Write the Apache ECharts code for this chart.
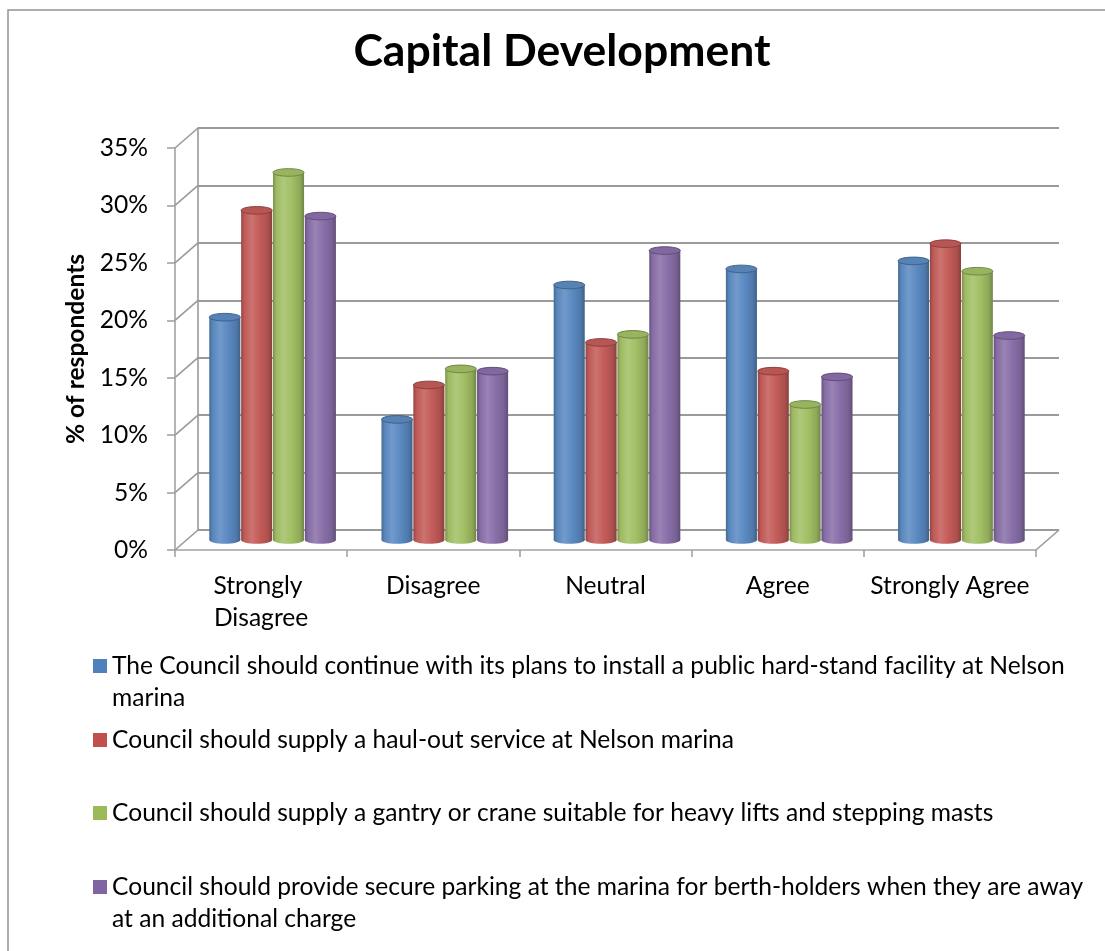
<!DOCTYPE html>
<html>
<head>
<meta charset="utf-8">
<title>Capital Development</title>
<script src="https://cdn.jsdelivr.net/npm/echarts@6/dist/echarts.min.js"></script>
<style>
  html, body { margin: 0; padding: 0; background: #ffffff; }
  #chart { width: 1105px; height: 951px; }
</style>
</head>
<body>
<div id="chart"></div>
<script>
// ---- data ---------------------------------------------------------------
const categories = ['Strongly Disagree', 'Disagree', 'Neutral', 'Agree', 'Strongly Agree'];

const seriesNames = [
  'The Council should continue with its plans to install a public hard-stand facility at Nelson marina',
  'Council should supply a haul-out service at Nelson marina',
  'Council should supply a gantry or crane suitable for heavy lifts and stepping masts',
  'Council should provide secure parking at the marina for berth-holders when they are away at an additional charge'
];

// % of respondents per answer
const hardStand = [19.4, 10.5, 22.2, 23.6, 24.3];
const haulOut   = [28.7, 13.5, 17.2, 14.7, 25.8];
const gantry    = [32.0, 14.9, 17.9, 11.8, 23.4];
const parking   = [28.2, 14.7, 25.2, 14.2, 17.8];

const yTicks = [0, 5, 10, 15, 20, 25, 30, 35];

// ---- look & layout -------------------------------------------------------
const FONT = 'Lato, Carlito, Calibri, "Open Sans", sans-serif';
const FONT_SIZE = 24.6;
const LINE_H = 32;
const palette = ['#4F81BD', '#C0504D', '#9BBB59', '#8064A2'];
const GRID_COLOR = '#9a9a9a';
const AXIS_COLOR = '#a3a3a3';

// front face of the plot box; the back wall is pushed up and to the right
const FRONT = { left: 175, top: 148, width: 861, height: 402 };
const DEPTH = { dx: 23, dy: 20 };
const GROUP_RATIO = 0.74;   // share of a category band used by the cylinder cluster

function mix(hex, target, t) {
  const n = parseInt(hex.slice(1), 16);
  const r = (n >> 16) & 255, g = (n >> 8) & 255, b = n & 255;
  const f = c => Math.round(c + (target - c) * t);
  return 'rgb(' + f(r) + ',' + f(g) + ',' + f(b) + ')';
}
const toHex = rgb => '#' + rgb.match(/\d+/g).map(c => (+c).toString(16).padStart(2, '0')).join('');
const darker = (hex, t) => mix(hex, 0, t);
const lighter = (hex, t) => mix(hex, 255, t);

function cylinderRenderer(seriesIdx) {
  const base = toHex(lighter(palette[seriesIdx], 0.07));
  return function (params, api) {
    const cat = api.value(0);
    const val = api.value(1);
    const band = api.size([1, 0])[0];
    const w = band * GROUP_RATIO / 4;
    const foot = api.coord([cat, 0]);
    const head = api.coord([cat, val]);
    const cx = foot[0] + (seriesIdx - 1.5) * w;
    const rx = w / 2 - 0.4;
    const ry = 3.8;
    const side = new echarts.graphic.LinearGradient(0, 0, 1, 0, [
      { offset: 0, color: darker(base, 0.25) },
      { offset: 0.1, color: darker(base, 0.03) },
      { offset: 0.34, color: lighter(base, 0.14) },
      { offset: 0.6, color: base },
      { offset: 0.86, color: darker(base, 0.12) },
      { offset: 1, color: darker(base, 0.3) }
    ]);
    return {
      type: 'group',
      children: [
        { type: 'ellipse', shape: { cx: cx, cy: foot[1], rx: rx, ry: ry }, style: { fill: side } },
        { type: 'rect', shape: { x: cx - rx, y: head[1], width: rx * 2, height: foot[1] - head[1] }, style: { fill: side } },
        { type: 'ellipse', shape: { cx: cx, cy: head[1], rx: rx, ry: ry },
          style: { fill: darker(base, 0.06), stroke: darker(base, 0.3), lineWidth: 1 } }
      ]
    };
  };
}

// edges linking the front axes to the back wall
function depthEdgeRenderer(params, api) {
  const cs = params.coordSys;
  const v = api.value(1);
  const y = api.coord([0, v])[1];
  const style = { stroke: GRID_COLOR, lineWidth: 1.6 };
  const children = [
    { type: 'line', shape: { x1: cs.x, y1: y, x2: cs.x + DEPTH.dx, y2: y - DEPTH.dy }, style: style }
  ];
  if (v === 0) {
    children.push({ type: 'line',
      shape: { x1: cs.x + cs.width, y1: y, x2: cs.x + cs.width + DEPTH.dx, y2: y - DEPTH.dy },
      style: style });
  }
  return { type: 'group', children: children };
}

const gridAt = k => ({
  left: FRONT.left + DEPTH.dx * k,
  top: FRONT.top - DEPTH.dy * k,
  width: FRONT.width,
  height: FRONT.height,
  containLabel: false
});

const valueAxisBase = { type: 'value', min: 0, max: 35, interval: 5 };
const seriesData = [hardStand, haulOut, gantry, parking];

// legend entries: number of text lines and vertical placement
const legendLines = [2, 1, 1, 2];
const legendTops = [650, 724, 797, 871];
const SWATCH = 14;

// a square swatch sitting level with the first text line; the zero-length
// tail stretches the icon box so that it spans the whole wrapped label
function swatchIcon(lines) {
  if (lines === 1) return 'rect';
  const h = SWATCH + (lines - 1) * LINE_H;
  return 'path://M0,0H' + SWATCH + 'V' + SWATCH + 'H0Z M0,' + h + 'L0.01,' + h;
}

const option = {
  animation: false,
  backgroundColor: '#ffffff',
  color: palette,
  textStyle: { fontFamily: FONT },
  title: {
    text: 'Capital Development',
    left: 562,
    top: 29,
    padding: 0,
    textAlign: 'center',
    textStyle: { fontFamily: FONT, fontWeight: 'bold', fontSize: 44.5, color: '#000000' }
  },
  graphic: [
    { type: 'rect', silent: true, shape: { x: 8, y: 10, width: 1200, height: 1200 },
      style: { fill: null, stroke: '#939393', lineWidth: 1.5 } }
  ],
  grid: [gridAt(1), gridAt(0.5), gridAt(0)],
  xAxis: [
    { gridIndex: 0, type: 'category', data: categories, show: false },
    { gridIndex: 1, type: 'category', data: categories, show: false },
    {
      gridIndex: 2, type: 'category', data: categories,
      axisLine: { show: true, lineStyle: { color: AXIS_COLOR, width: 1.6 } },
      axisTick: { show: true, interval: 0, length: 7, lineStyle: { color: AXIS_COLOR, width: 1.6 } },
      axisLabel: {
        interval: 0, margin: 20, fontFamily: FONT, fontSize: FONT_SIZE, lineHeight: LINE_H,
        color: '#000000', width: 168, overflow: 'break'
      },
      splitLine: { show: false }
    }
  ],
  yAxis: [
    Object.assign({}, valueAxisBase, {
      gridIndex: 0,
      axisLine: { show: true, lineStyle: { color: GRID_COLOR, width: 1.6 } },
      axisTick: { show: false },
      axisLabel: { show: false },
      splitLine: { show: true, lineStyle: { color: GRID_COLOR, width: 2 } }
    }),
    Object.assign({}, valueAxisBase, { gridIndex: 1, show: false, splitLine: { show: false } }),
    Object.assign({}, valueAxisBase, {
      gridIndex: 2,
      name: '% of respondents',
      nameLocation: 'middle',
      nameRotate: 90,
      nameGap: 82,
      nameTextStyle: { fontFamily: FONT, fontWeight: 'bold', fontSize: FONT_SIZE, color: '#000000' },
      axisLine: { show: true, lineStyle: { color: AXIS_COLOR, width: 1.6 } },
      axisTick: { show: true, length: 8, lineStyle: { color: AXIS_COLOR, width: 1.6 } },
      axisLabel: { formatter: '{value}%', margin: 27, fontFamily: FONT, fontSize: FONT_SIZE, color: '#000000' },
      splitLine: { show: false }
    })
  ],
  legend: seriesNames.map((name, i) => ({
    data: [name],
    left: 93,
    top: legendTops[i],
    orient: 'vertical',
    padding: 0,
    itemGap: 0,
    itemWidth: SWATCH,
    itemHeight: SWATCH + (legendLines[i] - 1) * LINE_H,
    icon: swatchIcon(legendLines[i]),
    selectedMode: false,
    itemStyle: { borderWidth: 0 },
    textStyle: {
      fontFamily: FONT, fontSize: FONT_SIZE, lineHeight: LINE_H, color: '#000000',
      width: 982, overflow: 'break'
    }
  })),
  series: [
    {
      type: 'custom',
      silent: true,
      xAxisIndex: 2, yAxisIndex: 2,
      z: 1,
      renderItem: depthEdgeRenderer,
      encode: { x: 0, y: 1 },
      data: yTicks.map(v => [0, v])
    }
  ].concat(seriesData.map((values, i) => ({
    type: 'custom',
    name: seriesNames[i],
    xAxisIndex: 1, yAxisIndex: 1,
    z: 5,
    itemStyle: { color: palette[i] },
    renderItem: cylinderRenderer(i),
    encode: { x: 0, y: 1 },
    data: values.map((v, c) => [c, v])
  })))
};

const chart = echarts.init(document.getElementById('chart'), null, { renderer: 'canvas' });
chart.setOption(option);
</script>
</body>
</html>
